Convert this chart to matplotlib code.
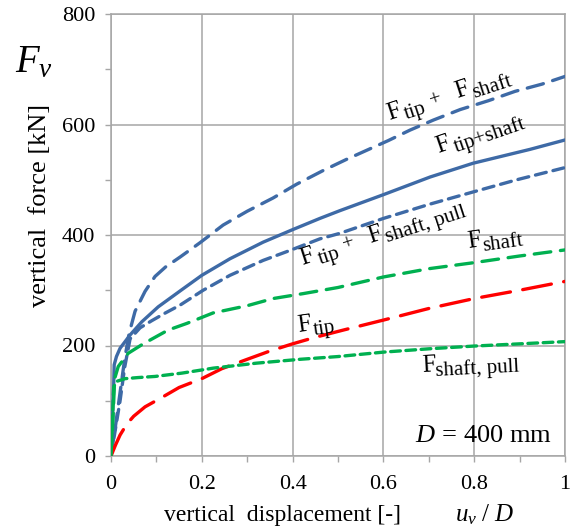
import math
import matplotlib
matplotlib.use("Agg")
import matplotlib.pyplot as plt
from matplotlib.ticker import MultipleLocator, FuncFormatter
from matplotlib.transforms import IdentityTransform

plt.rcParams['font.family'] = ['Liberation Serif', 'DejaVu Serif']
plt.rcParams['mathtext.fontset'] = 'custom'
plt.rcParams['mathtext.rm'] = 'Liberation Serif'
plt.rcParams['mathtext.it'] = 'Liberation Serif:italic'
plt.rcParams['lines.scale_dashes'] = False

# ---- data (u_v/D , F_v in kN) ----
x_sum = [0, 0.01, 0.02, 0.03, 0.04, 0.053, 0.075, 0.097, 0.12, 0.152, 0.196, 0.247, 0.3,
         0.357, 0.409, 0.468, 0.519, 0.611, 0.659, 0.71, 0.769, 0.831, 0.89, 0.949, 1.0]
y_sum = [0, 55, 115, 175, 222, 262, 298, 325, 342, 360, 386, 418, 443,
         467, 492, 517, 537, 571, 590, 608, 627, 643, 660, 673, 687]

x_total = [0, 0.003, 0.006, 0.007, 0.012, 0.02, 0.042, 0.068, 0.104, 0.156, 0.2, 0.262,
           0.335, 0.398, 0.46, 0.504, 0.6, 0.703, 0.798, 0.923, 1.0]
y_total = [0, 60, 130, 165, 180, 195, 219, 243, 270, 301, 327, 357,
           387, 409, 430, 444, 473, 505, 530, 555, 572]

x_sum_pull = [0, 0.01, 0.02, 0.03, 0.042, 0.064, 0.09, 0.12, 0.152, 0.203, 0.262, 0.335,
              0.394, 0.46, 0.504, 0.6, 0.703, 0.798, 0.894, 1.0]
y_sum_pull = [0, 50, 100, 160, 212, 232, 245, 259, 273, 300, 327, 354,
              372, 393, 403, 430, 456, 478, 500, 522]

x_shaft = [0, 0.004, 0.008, 0.016, 0.038, 0.071, 0.126, 0.167, 0.225, 0.3, 0.357, 0.424,
           0.5, 0.6, 0.7, 0.8, 0.9, 1.0]
y_shaft = [0, 60, 140, 162, 186, 203, 228, 240, 259, 272, 285, 294,
           305, 324, 339, 350, 362, 373]

x_tip = [0, 0.01, 0.02, 0.035, 0.05, 0.075, 0.11, 0.15, 0.2, 0.244, 0.3, 0.35, 0.4,
         0.446, 0.512, 0.6, 0.7, 0.8, 0.9, 1.0]
y_tip = [0, 20, 38, 58, 72, 89, 105, 124, 140, 158, 175, 190, 203,
         214, 228, 246, 267, 285, 300, 316]

x_shaft_pull = [0, 0.003, 0.006, 0.012, 0.031, 0.06, 0.097, 0.156, 0.225, 0.32, 0.416,
                0.5, 0.6, 0.7, 0.8, 0.9, 1.0]
y_shaft_pull = [0, 60, 125, 135, 140, 142, 144, 150, 159, 168, 175,
                180, 188, 194, 199, 203, 207]

x_ticks = [0, 0.2, 0.4, 0.6, 0.8, 1.0]
y_ticks = [0, 200, 400, 600, 800]

BLUE = '#3e6aa6'
GREEN = '#00b050'
RED = '#ff0000'
GRID = '#a6a6a6'

fig = plt.figure(figsize=(5.78, 5.32), dpi=100)
ax = fig.add_axes([111/578, 1-456/532, (565-111)/578, (456-14)/532])

lw = 2.4
ax.plot(x_sum, y_sum, color=BLUE, lw=lw, dashes=(12, 7), dash_capstyle='round', zorder=3)
ax.plot(x_total, y_total, color=BLUE, lw=lw, zorder=3)
ax.plot(x_sum_pull, y_sum_pull, color=BLUE, lw=lw, dashes=(8, 5), dash_capstyle='round', zorder=3)
ax.plot(x_shaft, y_shaft, color=GREEN, lw=lw, dashes=(12, 7), dash_capstyle='round', zorder=3)
ax.plot(x_tip, y_tip, color=RED, lw=lw, dashes=(21, 9), dash_capstyle='round', zorder=3)
ax.plot(x_shaft_pull, y_shaft_pull, color=GREEN, lw=lw, dashes=(7, 4), dash_capstyle='round', zorder=3)

ax.set_xlim(0, 1)
ax.set_ylim(0, 800)
ax.set_xticks(x_ticks)
ax.set_yticks(y_ticks)
ax.xaxis.set_minor_locator(MultipleLocator(0.1))
ax.yaxis.set_minor_locator(MultipleLocator(100))
ax.xaxis.set_major_formatter(FuncFormatter(lambda v, p: '%g' % v))
ax.grid(True, which='major', color=GRID, lw=1.1, zorder=1)
for s in ax.spines.values():
    s.set_color(GRID)
    s.set_linewidth(1.1)
ax.tick_params(which='both', direction='out', length=4.5, width=1, color=GRID,
               labelsize=16, pad=7)
ax.tick_params(axis='x', which='both', pad=9)

renderer = fig.canvas.get_renderer()

def width_px(text, size):
    t = fig.text(0, 0, text, fontsize=size)
    w = t.get_window_extent(renderer).width
    t.remove()
    return w

FS, SS, DY = 18, 15, -5

def rich(x, y, pieces, rot):
    ax0, ay0 = ax.transData.transform((x, y))
    c, s = math.cos(math.radians(rot)), math.sin(math.radians(rot))
    adv = 0.0
    for text, size, dy, gap in pieces:
        adv += gap
        px = ax0 + adv * c - dy * s
        py = ay0 + adv * s + dy * c
        fig.text(px, py, text, transform=IdentityTransform(), rotation=rot,
                 rotation_mode='anchor', ha='left', va='baseline', fontsize=size, zorder=5)
        adv += width_px(text, size)

rich(0.612, 608, [('F', FS, 0, 0), ('tip', SS, DY, 3), ('+', SS, 0, 6),
                  ('F', FS, 0, 15), ('shaft', SS, DY, 2)], 18)
rich(0.72, 548, [('F', FS, 0, 0), ('tip+shaft', SS, DY, 4)], 19)
rich(0.421, 346, [('F', FS, 0, 0), ('tip', SS, DY, 3), ('+', SS, 0, 6),
                  ('F', FS, 0, 15), ('shaft, pull', SS, DY, 2)], 18)
rich(0.786, 376, [('F', FS, 0, 0), ('shaft', SS, DY, 1)], 8)
rich(0.412, 224, [('F', FS, 0, 0), ('tip', SS, DY, 1)], 8)
rich(0.685, 152, [('F', FS, 0, 0), ('shaft, pull', SS, DY, 0)], 3)

ax.text(0.67, 25, r'$\mathit{D}\mathrm{\,{=}\,400\ mm}$', fontsize=19, ha='left', va='baseline', zorder=4)

fig.text(15/578, 1-72/532, r'$F_{v}$', fontsize=28, ha='left', va='baseline')
fig.text(40/578, 1-205/532, 'vertical  force [kN]', rotation=90, fontsize=19,
         ha='center', va='center')
fig.text(283/578, 1-515/532, 'vertical  displacement [-]', fontsize=17,
         ha='center', va='center')
fig.text(485/578, 1-515/532, r'$u_{v}\ /\ D$', fontsize=18, ha='center', va='center')

fig.savefig('out.png', dpi=100)
